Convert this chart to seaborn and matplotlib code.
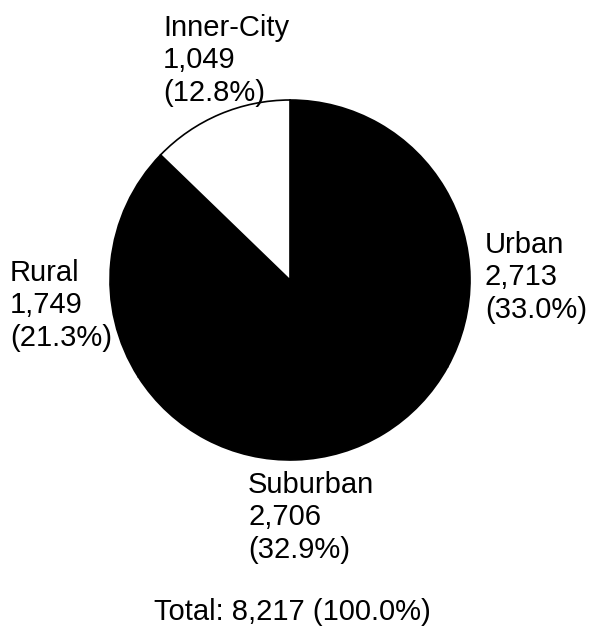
import matplotlib
matplotlib.use("Agg")
import matplotlib.pyplot as plt
import seaborn as sns

# data
areas = ["Urban", "Suburban", "Rural", "Inner-City"]
counts = [2713, 2706, 1749, 1049]
shares = [33.0, 32.9, 21.3, 12.8]
total_label = "Total: 8,217 (100.0%)"

# slice fills (the scan shows three dark slices and one white)
fills = ["#000000", "#000000", "#000000", "#ffffff"]

# label anchors in pixel space (left x, top y)
label_pos = {
    "Urban": (485, 231),
    "Suburban": (248, 471),
    "Rural": (10, 259),
    "Inner-City": (163, 14),
}


def main():
    sns.set_style("white")
    plt.rcParams["font.family"] = ["Liberation Sans", "DejaVu Sans"]

    W, H = 589, 628
    fig = plt.figure(figsize=(W / 100, H / 100), dpi=100)
    ax = fig.add_axes([0, 0, 1, 1])

    ax.pie(counts, colors=fills, startangle=90, counterclock=False,
           center=(290, H - 280), radius=180, frame=True,
           wedgeprops={"edgecolor": "black", "linewidth": 1.2})
    ax.set_xlim(0, W)
    ax.set_ylim(0, H)
    ax.set_aspect("equal")
    ax.axis("off")

    for name, n, pct in zip(areas, counts, shares):
        x, y = label_pos[name]
        ax.text(x, H - y, f"{name}\n{n:,}\n({pct:.1f}%)", ha="left", va="top",
                fontsize=21, linespacing=1.2, color="black")

    ax.text(292, H - 598, total_label, ha="center", va="top",
            fontsize=21, color="black")

    fig.savefig("out.png", dpi=100)
    plt.close(fig)


if __name__ == "__main__":
    main()
